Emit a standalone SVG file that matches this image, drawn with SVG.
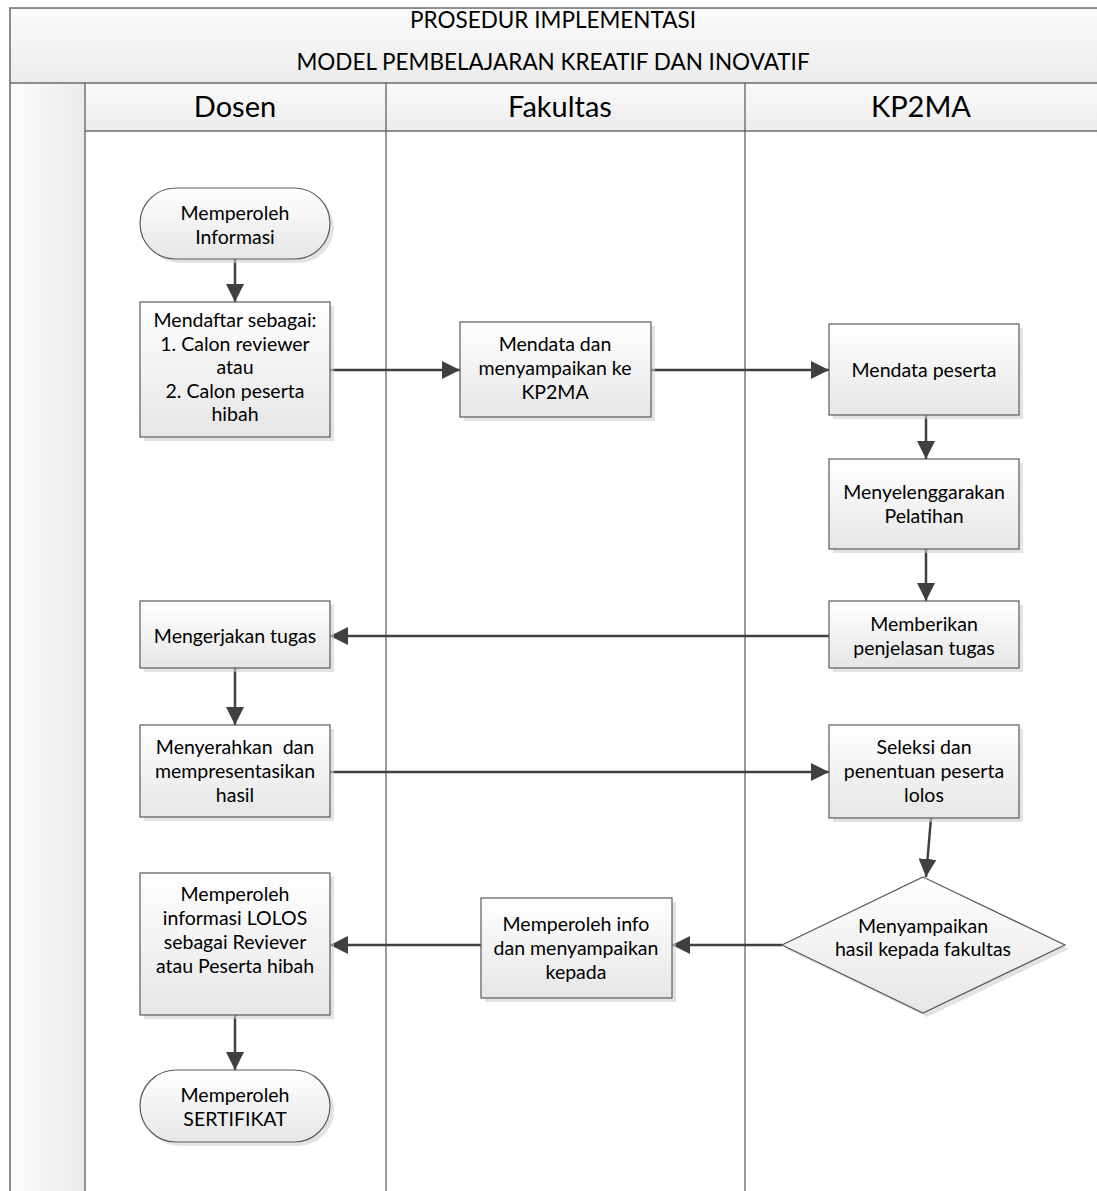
<svg xmlns="http://www.w3.org/2000/svg" width="1097" height="1191" viewBox="0 0 1097 1191">
<defs>
  <linearGradient id="gNode" x1="0" y1="0" x2="0" y2="1">
    <stop offset="0" stop-color="#ffffff"/>
    <stop offset="1" stop-color="#e6e6e6"/>
  </linearGradient>
  <linearGradient id="gBand" x1="0" y1="0" x2="0" y2="1">
    <stop offset="0" stop-color="#fbfbfb"/>
    <stop offset="1" stop-color="#ececec"/>
  </linearGradient>
  <linearGradient id="gSide" x1="0" y1="0" x2="1" y2="0">
    <stop offset="0" stop-color="#fdfdfd"/>
    <stop offset="1" stop-color="#ebebeb"/>
  </linearGradient>
  <marker id="arr" viewBox="0 0 18 18" refX="18" refY="9" markerWidth="18" markerHeight="18" markerUnits="userSpaceOnUse" orient="auto">
    <path d="M0,0 L18,9 L0,18 z" fill="#404040"/>
  </marker>
</defs>
<style>
  .frame { fill: none; stroke: #6a6a6a; stroke-width: 1.5; }
  .lane { stroke: #555; stroke-width: 1.2; fill: none; }
  .node { fill: url(#gNode); stroke: #5a5a5a; stroke-width: 1.2; }
  .shadow { fill: #d0d0d0; opacity: 0.6; }
  .t { font-family: Lato, "Open Sans", "Liberation Sans", sans-serif; font-size: 19.5px; fill: #000; text-anchor: middle; white-space: pre; }
  .h { font-family: Lato, "Open Sans", "Liberation Sans", sans-serif; font-size: 29px; fill: #000; text-anchor: middle; }
  .title { font-family: Lato, "Open Sans", "Liberation Sans", sans-serif; font-size: 22.5px; fill: #000; text-anchor: middle; }
  .c { stroke: #404040; stroke-width: 2.5; fill: none; marker-end: url(#arr); }
</style>
<rect width="1097" height="1191" fill="#ffffff"/>

<g id="pool">
  <rect x="10" y="8" width="1100" height="75" fill="url(#gBand)"/>
  <rect x="10" y="83" width="75" height="1120" fill="url(#gSide)"/>
  <rect x="85" y="83" width="1020" height="48" fill="url(#gBand)"/>
  <rect x="10" y="8" width="1100" height="1200" class="frame"/>
  <line x1="10" y1="83" x2="1100" y2="83" class="frame"/>
  <line x1="85" y1="131" x2="1100" y2="131" class="frame"/>
  <line x1="85" y1="83" x2="85" y2="1200" class="lane"/>
  <line x1="386" y1="83" x2="386" y2="1200" class="lane"/>
  <line x1="745" y1="83" x2="745" y2="1200" class="lane"/>
  <text class="title" x="553" y="28">PROSEDUR IMPLEMENTASI</text>
  <text class="title" x="553" y="70">MODEL PEMBELAJARAN KREATIF DAN INOVATIF</text>
  <text class="h" x="235" y="117">Dosen</text>
  <text class="h" x="560" y="117">Fakultas</text>
  <text class="h" x="921" y="117">KP2MA</text>
</g>

<g id="connectors">
  <line class="c" x1="235" y1="259" x2="235" y2="302"/>
  <line class="c" x1="330" y1="370" x2="460" y2="370"/>
  <line class="c" x1="651" y1="370" x2="829" y2="370"/>
  <line class="c" x1="926" y1="415" x2="926" y2="459"/>
  <line class="c" x1="926" y1="549" x2="926" y2="601"/>
  <line class="c" x1="829" y1="636" x2="330" y2="636"/>
  <line class="c" x1="235" y1="668" x2="235" y2="725"/>
  <line class="c" x1="330" y1="772" x2="829" y2="772"/>
  <line class="c" x1="931" y1="818" x2="926" y2="877"/>
  <line class="c" x1="782" y1="945" x2="672" y2="945"/>
  <line class="c" x1="481" y1="945" x2="330" y2="945"/>
  <line class="c" x1="235" y1="1015" x2="235" y2="1070"/>
</g>

<g id="n1">
  <rect class="shadow" x="144" y="192" width="190" height="71" rx="35.5"/>
  <rect class="node" x="140" y="188" width="190" height="71" rx="35.5"/>
  <text class="t" x="235" y="220">Memperoleh</text>
  <text class="t" x="235" y="244">Informasi</text>
</g>

<g id="n2">
  <rect class="shadow" x="144" y="306" width="190" height="135"/>
  <rect class="node" x="140" y="302" width="190" height="135"/>
  <text class="t" x="235" y="327">Mendaftar sebagai:</text>
  <text class="t" x="235" y="351">1. Calon reviewer</text>
  <text class="t" x="235" y="374">atau</text>
  <text class="t" x="235" y="398">2. Calon peserta</text>
  <text class="t" x="235" y="421">hibah</text>
</g>

<g id="n3">
  <rect class="shadow" x="464" y="326" width="191" height="95"/>
  <rect class="node" x="460" y="322" width="191" height="95"/>
  <text class="t" x="555" y="351">Mendata dan</text>
  <text class="t" x="555" y="375">menyampaikan ke</text>
  <text class="t" x="555" y="399">KP2MA</text>
</g>

<g id="n4">
  <rect class="shadow" x="833" y="328" width="190" height="91"/>
  <rect class="node" x="829" y="324" width="190" height="91"/>
  <text class="t" x="924" y="377">Mendata peserta</text>
</g>

<g id="n5">
  <rect class="shadow" x="833" y="463" width="190" height="90"/>
  <rect class="node" x="829" y="459" width="190" height="90"/>
  <text class="t" x="924" y="499">Menyelenggarakan</text>
  <text class="t" x="924" y="523">Pelatihan</text>
</g>

<g id="n6">
  <rect class="shadow" x="833" y="605" width="190" height="67"/>
  <rect class="node" x="829" y="601" width="190" height="67"/>
  <text class="t" x="924" y="631">Memberikan</text>
  <text class="t" x="924" y="655">penjelasan tugas</text>
</g>

<g id="n7">
  <rect class="shadow" x="144" y="605" width="190" height="67"/>
  <rect class="node" x="140" y="601" width="190" height="67"/>
  <text class="t" x="235" y="643">Mengerjakan tugas</text>
</g>

<g id="n8">
  <rect class="shadow" x="144" y="729" width="190" height="92"/>
  <rect class="node" x="140" y="725" width="190" height="92"/>
  <text class="t" x="235" y="754" xml:space="preserve">Menyerahkan  dan</text>
  <text class="t" x="235" y="778">mempresentasikan</text>
  <text class="t" x="235" y="802">hasil</text>
</g>

<g id="n9">
  <rect class="shadow" x="833" y="729" width="190" height="93"/>
  <rect class="node" x="829" y="725" width="190" height="93"/>
  <text class="t" x="924" y="754">Seleksi dan</text>
  <text class="t" x="924" y="778">penentuan peserta</text>
  <text class="t" x="924" y="802">lolos</text>
</g>

<g id="n10">
  <polygon class="shadow" points="927,881 1069,949 927,1017 786,949"/>
  <polygon class="node" points="923,877 1065,945 923,1013 782,945"/>
  <text class="t" x="923" y="933">Menyampaikan</text>
  <text class="t" x="923" y="956">hasil kepada fakultas</text>
</g>

<g id="n11">
  <rect class="shadow" x="485" y="902" width="191" height="100"/>
  <rect class="node" x="481" y="898" width="191" height="100"/>
  <text class="t" x="576" y="931">Memperoleh info</text>
  <text class="t" x="576" y="955">dan menyampaikan</text>
  <text class="t" x="576" y="979">kepada</text>
</g>

<g id="n12">
  <rect class="shadow" x="144" y="877" width="190" height="142"/>
  <rect class="node" x="140" y="873" width="190" height="142"/>
  <text class="t" x="235" y="901">Memperoleh</text>
  <text class="t" x="235" y="925">informasi LOLOS</text>
  <text class="t" x="235" y="949">sebagai Reviever</text>
  <text class="t" x="235" y="973">atau Peserta hibah</text>
</g>

<g id="n13">
  <rect class="shadow" x="144" y="1074" width="190" height="72" rx="36"/>
  <rect class="node" x="140" y="1070" width="190" height="72" rx="36"/>
  <text class="t" x="235" y="1102">Memperoleh</text>
  <text class="t" x="235" y="1126">SERTIFIKAT</text>
</g>
</svg>
